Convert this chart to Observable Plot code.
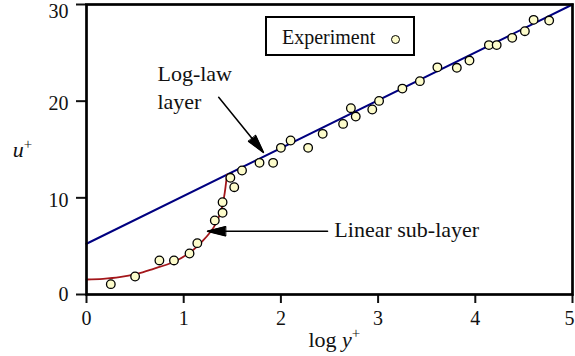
<!DOCTYPE html>
<html>
<head>
<meta charset="utf-8">
<script src="https://cdn.jsdelivr.net/npm/d3@7"></script>
<script src="https://cdn.jsdelivr.net/npm/@observablehq/plot@0.6"></script>
<style>
  html, body { margin: 0; padding: 0; background: #fff; }
  #chart { position: relative; width: 575px; height: 356px; }
  .legend {
    position: absolute; left: 265px; top: 16px; width: 150px; height: 40px;
    box-sizing: border-box; border: 2px solid #000; background: #fff;
    font: 20px "Liberation Serif", "Times New Roman", serif; color: #111;
  }
  .legend span.lab { position: absolute; left: 15px; top: 8px; }
  .legend span.sym {
    position: absolute; left: 124px; top: 17px; width: 7px; height: 7px;
    border: 1.3px solid #000; border-radius: 50%; background: #fdfccb;
  }
</style>
</head>
<body>
<div id="chart"></div>
<script>
// Experimental velocity profile: log y+ and u+
const expLogY = [0.25, 0.50, 0.75, 0.90, 1.06, 1.14, 1.32, 1.40, 1.40, 1.48, 1.52, 1.60,
                 1.78, 1.92, 2.00, 2.10, 2.28, 2.43, 2.64, 2.72, 2.77, 2.94, 3.01, 3.25,
                 3.43, 3.61, 3.81, 3.94, 4.14, 4.22, 4.38, 4.51, 4.60, 4.76];
const expU = [1.07, 1.86, 3.52, 3.52, 4.24, 5.31, 7.66, 8.45, 9.55, 12.07, 11.10, 12.83,
              13.62, 13.62, 15.17, 15.93, 15.17, 16.62, 17.65, 19.27, 18.41, 19.14, 20.03, 21.30,
              22.07, 23.50, 23.45, 24.20, 25.80, 25.80, 26.55, 27.24, 28.41, 28.34];

// Linear sub-layer curve
const subLogY = [0.00, 0.17, 0.34, 0.52, 0.69, 0.89, 1.07, 1.20, 1.31, 1.375, 1.415, 1.445];
const subU    = [1.55, 1.62, 1.79, 2.14, 2.66, 3.34, 4.38, 5.59, 6.97, 8.35, 10.07, 12.40];

// Log-law line
const lawLogY = [0, 5];
const lawU = [5.25, 30];

// Axis ticks
const xTicks = [0, 1, 2, 3, 4, 5];
const yTicks = [0, 10, 20, 30];

// Annotation arrows (tail -> tip) and their labels
const arrowX1 = [1.36, 2.48];
const arrowY1 = [20.4, 6.55];
const arrowX2 = [1.82, 1.245];
const arrowY2 = [14.7, 6.55];
const noteText = ["Log-law\nlayer", "Linear sub-layer"];
const noteX = [0.73, 2.55];
const noteY = [19.2, 6.0];

// Axis titles
const titleText = ["log y+", "u+"];
const titleX = [2.55, -0.66];
const titleY = [-5.4, 14.2];

const exp = expLogY.map((x, i) => ({x, y: expU[i]}));
const sub = subLogY.map((x, i) => ({x, y: subU[i]}));
const law = lawLogY.map((x, i) => ({x, y: lawU[i]}));
const arrows = arrowX1.map((x1, i) => ({x1, y1: arrowY1[i], x2: arrowX2[i], y2: arrowY2[i]}));
const notes = noteText.map((t, i) => ({t, x: noteX[i], y: noteY[i]}));
const titles = titleText.map((t, i) => ({t, x: titleX[i], y: titleY[i]}));

const serif = '"Liberation Serif", "Times New Roman", serif';

const plot = Plot.plot({
  width: 575,
  height: 356,
  marginLeft: 86,
  marginRight: 3,
  marginTop: 4,
  marginBottom: 62,
  style: {fontFamily: serif, fontSize: "20px", background: "white", overflow: "visible", color: "#111"},
  x: {domain: [0, 5]},
  y: {domain: [0, 30]},
  marks: [
    Plot.axisX(xTicks, {tickSize: 9, tickPadding: 7, strokeWidth: 2, label: null, fontSize: 20, tickFormat: d => String(d)}),
    Plot.axisY(yTicks, {tickSize: 10, tickPadding: 8, strokeWidth: 2, label: null, fontSize: 20, tickFormat: d => String(d)}),
    Plot.line(law, {x: "x", y: "y", stroke: "#000080", strokeWidth: 2}),
    Plot.line(sub, {x: "x", y: "y", stroke: "#a3161a", strokeWidth: 1.8, curve: "catmull-rom"}),
    Plot.dot(exp, {x: "x", y: "y", r: 4.3, fill: "#fdfccb", stroke: "#000", strokeWidth: 1.3}),
    Plot.arrow(arrows, {x1: "x1", y1: "y1", x2: "x2", y2: "y2", stroke: "#000", strokeWidth: 1.5, headAngle: 28, headLength: 18.5}),
    Plot.text(notes, {x: "x", y: "y", text: "t", textAnchor: "start", lineAnchor: "bottom", lineHeight: 1.255, fontSize: 22, fill: "#111"}),
    Plot.text(titles, {x: "x", y: "y", text: "t", textAnchor: "middle", lineAnchor: "bottom", fontSize: 22, fill: "#111"}),
    Plot.frame({stroke: "#000", strokeWidth: 2.7})
  ]
});

// Fill the arrowheads as solid triangles
d3.select(plot).selectAll('g[aria-label="arrow"] path').each(function () {
  const parts = this.getAttribute("d").split("M");
  if (parts.length >= 3) {
    d3.select(this.parentNode).append("path")
      .attr("d", "M" + parts[2] + "Z")
      .attr("fill", "#000")
      .attr("stroke", "#000")
      .attr("stroke-width", 1);
  }
});

// Y tick labels sit slightly below their ticks; the top one is kept inside the page
d3.select(plot).selectAll('g[aria-label="y-axis tick label"] text').each(function () {
  const s = this.textContent;
  const shift = s === "30" ? 7.5 : s === "0" ? 0 : 2.5;
  this.setAttribute("transform", (this.getAttribute("transform") || "") + ` translate(0,${shift})`);
});

// The last x tick label is nudged left so it stays on the page
d3.select(plot).selectAll('g[aria-label="x-axis tick label"] text').each(function () {
  if (this.textContent === "5") {
    this.setAttribute("transform", (this.getAttribute("transform") || "") + " translate(-3,0)");
  }
});

// Italic variables and superscript plus signs in the axis titles
d3.select(plot).selectAll("text").each(function () {
  const s = this.textContent;
  if (s === "u+" || s === "log y+") {
    const t = d3.select(this);
    t.text(null);
    if (s === "log y+") t.append("tspan").text("log ");
    t.append("tspan").attr("font-style", "italic").text(s === "u+" ? "u" : "y");
    t.append("tspan").attr("dy", "-0.55em").attr("font-size", "0.68em").text("+");
  }
});

const chart = document.getElementById("chart");
chart.append(plot);

// Legend box
const legend = document.createElement("div");
legend.className = "legend";
legend.innerHTML = '<span class="lab">Experiment</span><span class="sym"></span>';
chart.append(legend);
</script>
</body>
</html>
